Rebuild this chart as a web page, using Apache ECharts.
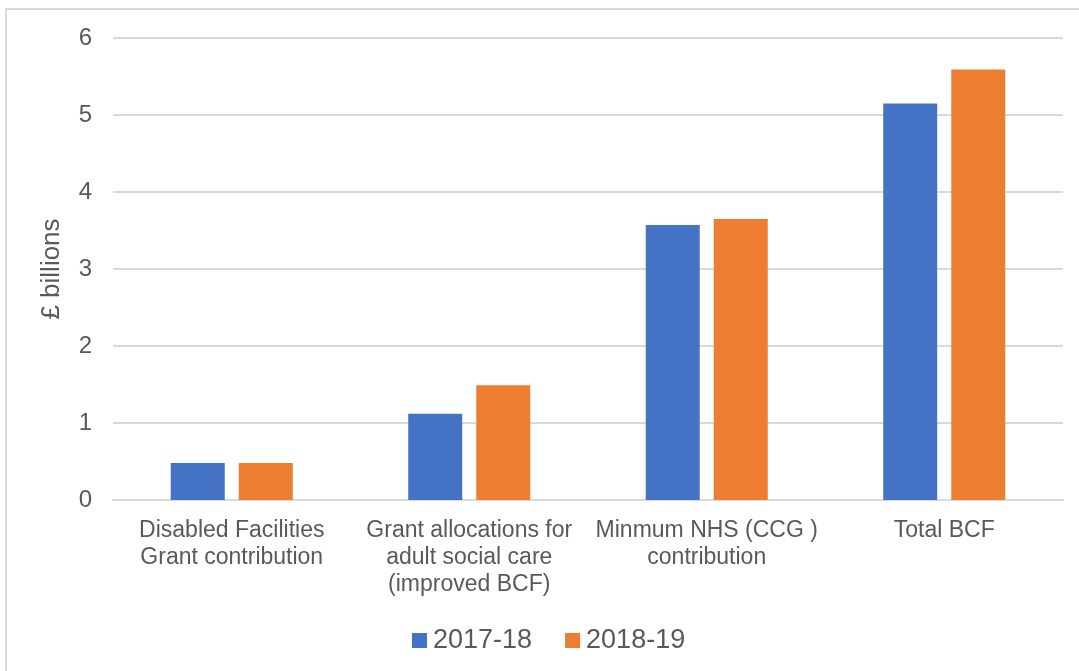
<!DOCTYPE html>
<html>
<head>
<meta charset="utf-8">
<script src="https://cdn.jsdelivr.net/npm/echarts@6/dist/echarts.min.js"></script>
<style>
html,body{margin:0;padding:0;background:#fff;overflow:hidden;}
#frame{position:absolute;left:5px;top:8px;width:1200px;height:800px;border-top:2px solid #d9d9d9;border-left:2px solid #d9d9d9;}
#chart{position:absolute;left:0;top:0;width:1079px;height:671px;}
</style>
</head>
<body>
<div id="frame"></div>
<div id="chart"></div>
<script>
const categories = [
  "Disabled Facilities\nGrant contribution",
  "Grant allocations for\nadult social care\n(improved BCF)",
  "Minmum NHS (CCG )\ncontribution",
  "Total BCF"
];
const seriesNames = ["2017-18", "2018-19"];
const values2017 = [0.48, 1.12, 3.57, 5.15];
const values2018 = [0.48, 1.49, 3.65, 5.59];
const yTicks = [0, 1, 2, 3, 4, 5, 6];

const chart = echarts.init(document.getElementById('chart'));
const textColor = '#595959';
const font = 'Arial, "Liberation Sans", sans-serif';
chart.setOption({
  animation: false,
  backgroundColor: 'transparent',
  textStyle: { fontFamily: font, color: textColor },
  grid: { left: 113, right: 16, top: 38, bottom: 171, containLabel: false },
  legend: {
    data: seriesNames,
    left: 407, top: 622,
    icon: 'rect', itemWidth: 15, itemHeight: 15, itemGap: 33,
    textStyle: { fontSize: 27, color: textColor, fontFamily: font, padding: [0,0,0,1] }
  },
  xAxis: {
    type: 'category',
    data: categories,
    axisLine: { show: true, lineStyle: { color: '#d9d9d9', width: 2 } },
    axisTick: { show: false },
    axisLabel: { fontSize: 23, color: textColor, lineHeight: 27, margin: 17, interval: 0, fontFamily: font }
  },
  yAxis: {
    type: 'value',
    min: yTicks[0], max: yTicks[yTicks.length - 1], interval: 1,
    name: '£ billions', nameLocation: 'middle', nameGap: 48,
    nameTextStyle: { fontSize: 26, color: textColor, fontFamily: font },
    axisLine: { show: false },
    axisTick: { show: false },
    splitLine: { lineStyle: { color: '#d9d9d9', width: 2 } },
    axisLabel: { fontSize: 24, color: textColor, margin: 21, fontFamily: font }
  },
  series: [
    { name: seriesNames[0], type: 'bar', data: values2017, barWidth: 54, barGap: '26%',
      itemStyle: { color: '#4472C4' } },
    { name: seriesNames[1], type: 'bar', data: values2018, barWidth: 54, barGap: '26%',
      itemStyle: { color: '#ED7D31' } }
  ]
});
</script>
</body>
</html>
